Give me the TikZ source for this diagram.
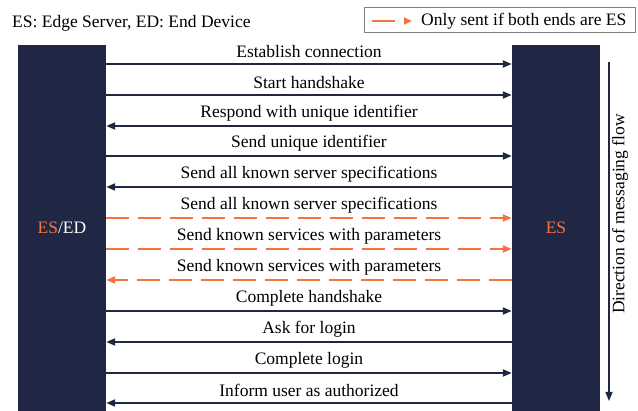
\documentclass[tikz,border=0pt]{standalone}
\usepackage{fontspec}
\setmainfont{Liberation Serif}
\usetikzlibrary{arrows.meta}
\definecolor{navy}{HTML}{1F2744}
\definecolor{orng}{HTML}{F47340}
\definecolor{lgray}{HTML}{7F7F7F}
\begin{document}
\begin{tikzpicture}[x=1pt,y=-1pt,
  font=\fontsize{17.5}{20}\selectfont,
  bar/.style={fill=navy,draw=none,minimum width=88pt,minimum height=366pt,inner sep=0pt},
  msg/.style={navy,line width=2pt,-{Triangle[length=9pt,width=7pt]}},
  opt/.style={orng,line width=2pt,dash pattern=on 23pt off 9pt,-{Triangle[length=9pt,width=7pt]}},
  lbl/.style={text=black,inner sep=0pt}]
\useasboundingbox (0,0) rectangle (638,411);
\node[bar] (L) at (62,228) {\textcolor{orng}{ES}\textcolor{white}{/ED}};
\node[bar] (R) at (556,228) {\textcolor{orng}{ES}};
\node[anchor=west,inner sep=0pt] (key) at (12,23) {ES: Edge Server, ED: End Device};
% legend
\node[draw=lgray,line width=1pt,minimum width=271pt,minimum height=25pt,inner sep=0pt] (leg) at (499.5,20.5) {};
\coordinate (la) at (372,21);
\coordinate (lb) at (412,21);
\draw[orng,line width=2pt,dash pattern=on 23pt off 10pt,-{Triangle[length=8pt,width=7pt]}] (la) -- (lb);
\node[anchor=west,inner sep=0pt] (legt) at (421,21.5) {Only sent if both ends are ES};
% messages
\foreach \y/\t/\dir/\st [count=\i] in {
  64/Establish connection/r/msg,
  95/Start handshake/r/msg,
  126/Respond with unique identifier/l/msg,
  156/Send unique identifier/r/msg,
  187/Send all known server specifications/l/msg,
  218/Send all known server specifications/r/opt,
  249/Send known services with parameters/r/opt,
  280/Send known services with parameters/l/opt,
  311/Complete handshake/r/msg,
  342/Ask for login/l/msg,
  373/Complete login/r/msg,
  403/Inform user as authorized/l/msg}{
  \coordinate (a\i) at (L.east |- 0,\y);
  \coordinate (b\i) at (R.west |- 0,\y);
  \node[lbl] (t\i) at (309,\y-12.5) {\t};
  \if\dir r
    \draw[\st] (a\i) -- (b\i);
  \else
    \draw[\st] (b\i) -- (a\i);
  \fi
}
% direction
\coordinate (d1) at (609,62);
\coordinate (d2) at (609,401);
\draw[navy,line width=1.5pt,-{Triangle[length=9pt,width=7pt]}] (d1) -- (d2);
\node[rotate=90,inner sep=0pt] (dir) at (620,214) {Direction of messaging flow};
\end{tikzpicture}
\end{document}
